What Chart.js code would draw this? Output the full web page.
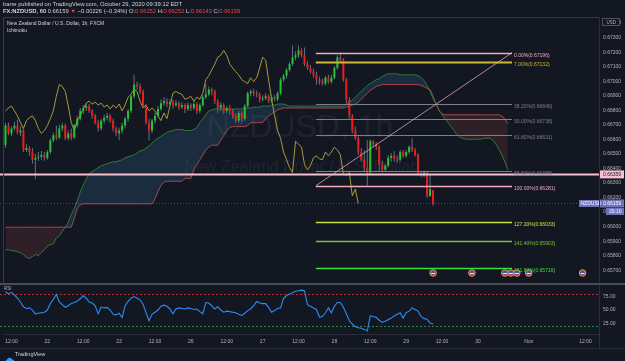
<!DOCTYPE html>
<html><head><meta charset="utf-8">
<script src="https://cdn.jsdelivr.net/npm/chart.js@4.4.0/dist/chart.umd.min.js"></script>
<style>
html,body{margin:0;padding:0;background:#131722;}
#wrap{position:relative;width:625px;height:361px;overflow:hidden;background:#131722;font-family:'Liberation Sans',Arial,sans-serif;}
.t{position:absolute;white-space:nowrap;color:#d1d4dc;line-height:1;}
.r{color:#ef4444;}
canvas{position:absolute;left:0;}
.ln{position:absolute;background:#2a2e39;}
</style></head>
<body><div id="wrap">
<canvas id="main" width="625" height="275" style="top:13px"></canvas>
<canvas id="rsi" width="625" height="70" style="top:280px"></canvas>
<div class="ln" style="left:3px;top:17px;width:596px;height:1px;background:#363a45"></div>
<div class="ln" style="left:3px;top:17px;width:1px;height:267px;background:#363a45"></div>
<div class="ln" style="left:599px;top:17px;width:1px;height:331px"></div>
<div class="ln" style="left:0;top:283px;width:625px;height:2px;background:#4a4e59"></div>
<div class="ln" style="left:0;top:348px;width:625px;height:1px"></div>
<div class="t" style="left:3px;top:1.5px;font-size:5.8px">barre published on TradingView.com, October 29, 2020 09:39:12 EDT</div>
<div class="t" style="left:3px;top:9px;font-size:5.8px"><b>FX:NZDUSD, 60</b> 0.66159 <span class="r">▼</span> −0.00226 (−0.34%) O:<span class="r">0.66252</span> H:<span class="r">0.66252</span> L:<span class="r">0.66143</span> C:<span class="r">0.66159</span></div>
<div class="t" style="left:7px;top:21px;font-size:5px">New Zealand Dollar / U.S. Dollar, 1h, FXCM</div>
<div class="t" style="left:7px;top:27.5px;font-size:5px">Ichimoku</div>
<div class="t" style="left:4px;top:351px;"><svg width="10" height="7" viewBox="0 0 10 7"><path d="M2 6.5h6a2 2 0 0 0 0.3-4a3 3 0 0 0-5.6 0.6a2 2 0 0 0-0.7 3.4z" fill="#2a9df4"/></svg></div>
<div class="t" style="left:15px;top:352px;font-size:5.5px">TradingView</div>
</div>
<script>
// ---------- categories (hourly bars, FX session) ----------
const sessions = [['Oct 21',10,23],['Oct 22',0,23],['Oct 23',0,16],['Oct 25',17,23],['Oct 26',0,23],['Oct 27',0,23],['Oct 28',0,23],['Oct 29',0,23],['Oct 30',0,16],['Nov 1',17,23],['Nov 2',0,16]];
const categories = [];
sessions.forEach(s => { for (let h = s[1]; h <= s[2]; h++) categories.push(s[0] + ' ' + String(h).padStart(2,'0') + ':00'); });

const tickIndex = [2,14,26,38,50,62,74,86,98,110,122,134,146,158,175,194];
const tickText  = ['12:00','22','12:00','23','12:00','26','12:00','27','12:00','28','12:00','29','12:00','30','Nov','12:00'];
const priceTicks = [0.657,0.658,0.659,0.660,0.661,0.662,0.663,0.664,0.665,0.666,0.667,0.668,0.669,0.670,0.671,0.672,0.673,0.674];
const rsiTicks = [25,50,75];
const rsiBands = [80,20];

// ---------- OHLC ----------
const open = [
0.66560,0.66695,0.66641,0.66675,0.66695,0.66648,0.66661,0.66527,0.66540,0.66513,
0.66460,0.66473,0.66480,0.66493,0.66473,0.66513,0.66594,0.66628,0.66614,0.66675,
0.66695,0.66608,0.66641,0.66614,0.66695,0.66742,0.66796,0.66816,0.66829,0.66796,
0.66762,0.66715,0.66675,0.66729,0.66749,0.66762,0.66729,0.66675,0.66641,0.66661,
0.66695,0.66742,0.66796,0.66896,0.66977,0.66964,0.66930,0.66829,0.66715,0.66661,
0.66729,0.66762,0.66809,0.66849,0.66863,0.66843,0.66856,0.66836,0.66849,0.66822,
0.66836,0.66809,0.66836,0.66816,0.66843,0.66796,0.66836,0.66890,0.66910,0.66943,
0.66930,0.66863,0.66816,0.66836,0.66796,0.66816,0.66796,0.66762,0.66729,0.66782,
0.66742,0.66829,0.66917,0.66930,0.66917,0.66910,0.66876,0.66883,0.66896,0.66863,
0.66890,0.66876,0.66917,0.67011,0.67038,0.67078,0.67118,0.67165,0.67179,0.67212,
0.67179,0.67118,0.67091,0.67065,0.67044,0.67011,0.66997,0.66984,0.67024,0.66997,
0.67024,0.67091,0.67165,0.67145,0.67011,0.66876,0.66762,0.66661,0.66608,0.66513,
0.66460,0.66406,0.66372,0.66587,0.66567,0.66547,0.66426,0.66392,0.66419,0.66473,
0.66487,0.66466,0.66460,0.66513,0.66487,0.66513,0.66547,0.66527,0.66493,0.66366,
0.66352,0.66372,0.66211,0.66252];
const high = [
0.66715,0.66715,0.66688,0.66722,0.66735,0.66688,0.66675,0.66567,0.66554,0.66540,
0.66500,0.66513,0.66520,0.66513,0.66527,0.66608,0.66648,0.66695,0.66702,0.66715,
0.66708,0.66661,0.66675,0.66708,0.66762,0.66816,0.66836,0.66849,0.66843,0.66809,
0.66775,0.66735,0.66742,0.66769,0.66782,0.66775,0.66742,0.66688,0.66681,0.66715,
0.66755,0.66809,0.66910,0.67044,0.66997,0.66984,0.66943,0.66843,0.66742,0.66742,
0.66782,0.66829,0.66876,0.66890,0.66883,0.66876,0.66870,0.66870,0.66863,0.66856,
0.66849,0.66856,0.66849,0.66863,0.66856,0.66849,0.66903,0.66984,0.66964,0.66957,
0.66943,0.66876,0.66856,0.66849,0.66829,0.66836,0.66809,0.66782,0.66796,0.66796,
0.66843,0.66930,0.66943,0.66950,0.66937,0.66923,0.66903,0.66917,0.66910,0.66910,
0.66903,0.66930,0.67024,0.67051,0.67091,0.67132,0.67246,0.67206,0.67246,0.67226,
0.67232,0.67138,0.67112,0.67085,0.67065,0.67031,0.67017,0.67038,0.67044,0.67044,
0.67105,0.67179,0.67196,0.67159,0.67024,0.66890,0.66775,0.66688,0.66621,0.66540,
0.66527,0.66594,0.66601,0.66594,0.66581,0.66560,0.66453,0.66433,0.66493,0.66507,
0.66520,0.66493,0.66527,0.66527,0.66527,0.66560,0.66608,0.66540,0.66507,0.66379,
0.66386,0.66379,0.66359,0.66252];
const low = [
0.66540,0.66628,0.66621,0.66661,0.66634,0.66621,0.66513,0.66513,0.66487,0.66433,
0.66325,0.66453,0.66460,0.66453,0.66460,0.66500,0.66581,0.66594,0.66601,0.66655,
0.66594,0.66594,0.66594,0.66601,0.66681,0.66729,0.66775,0.66796,0.66782,0.66742,
0.66702,0.66655,0.66661,0.66708,0.66729,0.66715,0.66655,0.66621,0.66594,0.66641,
0.66675,0.66722,0.66782,0.66883,0.66943,0.66910,0.66816,0.66702,0.66594,0.66641,
0.66708,0.66749,0.66796,0.66829,0.66822,0.66829,0.66809,0.66822,0.66802,0.66809,
0.66782,0.66796,0.66796,0.66802,0.66775,0.66782,0.66822,0.66876,0.66896,0.66903,
0.66843,0.66782,0.66796,0.66775,0.66782,0.66769,0.66742,0.66715,0.66715,0.66722,
0.66729,0.66816,0.66896,0.66896,0.66890,0.66856,0.66863,0.66870,0.66849,0.66849,
0.66863,0.66863,0.66903,0.66997,0.67017,0.67065,0.67105,0.67145,0.67159,0.67165,
0.67105,0.67078,0.67051,0.67024,0.66977,0.66977,0.66970,0.66970,0.66984,0.66984,
0.67011,0.67078,0.67132,0.66997,0.66849,0.66742,0.66641,0.66594,0.66493,0.66446,
0.66379,0.66281,0.66359,0.66547,0.66527,0.66379,0.66372,0.66379,0.66406,0.66446,
0.66446,0.66440,0.66446,0.66473,0.66473,0.66500,0.66513,0.66480,0.66352,0.66339,
0.66339,0.66198,0.66204,0.66143];
const close = [
0.66695,0.66641,0.66675,0.66695,0.66648,0.66661,0.66527,0.66540,0.66513,0.66460,
0.66473,0.66480,0.66493,0.66473,0.66513,0.66594,0.66628,0.66614,0.66675,0.66695,
0.66608,0.66641,0.66614,0.66695,0.66742,0.66796,0.66816,0.66829,0.66796,0.66762,
0.66715,0.66675,0.66729,0.66749,0.66762,0.66729,0.66675,0.66641,0.66661,0.66695,
0.66742,0.66796,0.66896,0.66977,0.66964,0.66930,0.66829,0.66715,0.66661,0.66729,
0.66762,0.66809,0.66849,0.66863,0.66843,0.66856,0.66836,0.66849,0.66822,0.66836,
0.66809,0.66836,0.66816,0.66843,0.66796,0.66836,0.66890,0.66910,0.66943,0.66930,
0.66863,0.66816,0.66836,0.66796,0.66816,0.66796,0.66762,0.66729,0.66782,0.66742,
0.66829,0.66917,0.66930,0.66917,0.66910,0.66876,0.66883,0.66896,0.66863,0.66890,
0.66876,0.66917,0.67011,0.67038,0.67078,0.67118,0.67165,0.67179,0.67212,0.67179,
0.67118,0.67091,0.67065,0.67044,0.67011,0.66997,0.66984,0.67024,0.66997,0.67024,
0.67091,0.67165,0.67145,0.67011,0.66876,0.66762,0.66661,0.66608,0.66513,0.66460,
0.66406,0.66372,0.66587,0.66567,0.66547,0.66426,0.66392,0.66419,0.66473,0.66487,
0.66466,0.66460,0.66513,0.66487,0.66513,0.66547,0.66527,0.66493,0.66366,0.66352,
0.66372,0.66211,0.66258,0.66159];

// ---------- Ichimoku leading spans (already displaced forward) ----------
const spanA = [
0.65841,0.65841,0.65834,0.65834,0.65828,0.65821,0.65808,0.65788,0.65781,0.65794,
0.65808,0.65801,0.65821,0.65841,0.65868,0.65875,0.65882,0.65922,0.65935,0.65969,
0.65996,0.66029,0.66083,0.66124,0.66177,0.66238,0.66285,0.66325,0.66366,0.66379,
0.66392,0.66406,0.66419,0.66426,0.66433,0.66440,0.66446,0.66446,0.66453,0.66460,
0.66473,0.66480,0.66487,0.66493,0.66507,0.66520,0.66527,0.66540,0.66554,0.66574,
0.66594,0.66608,0.66621,0.66634,0.66648,0.66655,0.66661,0.66668,0.66668,0.66668,
0.66661,0.66661,0.66661,0.66668,0.66681,0.66715,0.66742,0.66769,0.66796,0.66802,
0.66809,0.66809,0.66809,0.66809,0.66809,0.66809,0.66809,0.66809,0.66809,0.66809,
0.66809,0.66816,0.66816,0.66822,0.66822,0.66822,0.66829,0.66829,0.66829,0.66836,
0.66836,0.66843,0.66843,0.66843,0.66836,0.66829,0.66829,0.66829,0.66829,0.66829,
0.66829,0.66829,0.66829,0.66829,0.66829,0.66829,0.66829,0.66829,0.66829,0.66829,
0.66829,0.66829,0.66829,0.66829,0.66843,0.66856,0.66870,0.66890,0.66910,0.66930,
0.66950,0.66970,0.66984,0.66997,0.67011,0.67017,0.67031,0.67044,0.67051,0.67051,
0.67051,0.67051,0.67044,0.67044,0.67044,0.67044,0.67044,0.67044,0.67038,0.67024,
0.67004,0.66970,0.66930,0.66883,0.66843,0.66802,0.66769,0.66742,0.66715,0.66688,
0.66661,0.66634,0.66614,0.66608,0.66601,0.66601,0.66601,0.66601,0.66601,0.66601,
0.66608,0.66608,0.66608,0.66594,0.66567,0.66534,0.66493,0.66446,0.66392];
const spanB = [
0.65996,0.65996,0.65996,0.65996,0.65996,0.65996,0.65996,0.65996,0.65996,0.65996,
0.65996,0.65996,0.65996,0.65996,0.65996,0.65996,0.65996,0.65996,0.65996,0.65996,
0.65996,0.65996,0.65996,0.66056,0.66124,0.66150,0.66157,0.66157,0.66157,0.66157,
0.66157,0.66157,0.66157,0.66157,0.66157,0.66157,0.66157,0.66157,0.66157,0.66157,
0.66157,0.66157,0.66157,0.66157,0.66157,0.66157,0.66157,0.66157,0.66157,0.66157,
0.66191,0.66238,0.66285,0.66305,0.66312,0.66312,0.66312,0.66312,0.66312,0.66312,
0.66332,0.66332,0.66332,0.66392,0.66426,0.66460,0.66493,0.66527,0.66547,0.66560,
0.66560,0.66560,0.66594,0.66628,0.66661,0.66681,0.66688,0.66688,0.66688,0.66688,
0.66688,0.66695,0.66715,0.66715,0.66715,0.66715,0.66715,0.66742,0.66762,0.66775,
0.66789,0.66802,0.66809,0.66816,0.66816,0.66816,0.66816,0.66816,0.66816,0.66816,
0.66816,0.66816,0.66816,0.66816,0.66816,0.66816,0.66816,0.66816,0.66816,0.66816,
0.66816,0.66816,0.66816,0.66816,0.66822,0.66829,0.66836,0.66843,0.66856,0.66876,
0.66896,0.66917,0.66937,0.66950,0.66964,0.66970,0.66977,0.66977,0.66977,0.66977,
0.66977,0.66977,0.66977,0.66977,0.66977,0.66977,0.66977,0.66977,0.66977,0.66970,
0.66964,0.66950,0.66943,0.66896,0.66843,0.66796,0.66775,0.66769,0.66769,0.66769,
0.66769,0.66769,0.66769,0.66769,0.66769,0.66769,0.66769,0.66769,0.66769,0.66769,
0.66769,0.66769,0.66769,0.66769,0.66769,0.66769,0.66762,0.66742,0.66708];

// ---------- RSI ----------
const rsi = [
84,80,83,78,72,65,56,53,54,50, 43,44,45,46,50,62,70,79,65,60,
55,58,62,64,67,71,77,72,65,63, 58,43,56,54,55,50,42,41,44,36,
58,66,72,75,72,69,61,45,30,42, 46,50,57,59,57,52,43,52,54,53,
52,54,53,51,52,47,43,64,63,58, 52,56,50,46,48,47,46,45,42,40,
44,49,52,58,66,63,62,62,55,46, 49,53,54,72,77,80,82,85,86,87,
86,60,57,54,51,37,38,45,54,45, 57,64,64,55,43,30,24,19,17,16,
14,11,39,38,36,31,27,29,32,35, 39,42,45,35,45,48,54,51,48,38,
34,33,26,24];

// ---------- drawings ----------
const fibText   = ['0.00%','7.00%','38.20%','50.00%','61.80%','88.60%','100.00%','127.20%','141.40%','161.80%'];
const fibPrices = [0.67196,0.67132,0.66846,0.66738,0.66631,0.66385,0.66281,0.66033,0.65903,0.65716];
const fibAnchorIdx = [103.8, 169.4];
const hLinePrice = 0.66359;
const eventIdx = [143,156,167,169,171,175,193];
const watermark = ['NZDUSD, 1h','New Zealand Dollar / U.S. Dollar'];
const countdown = '20:10';

// ---------- styles ----------
const FONT = "'Liberation Sans', Arial, sans-serif";
Chart.defaults.font.family = FONT;
Chart.defaults.color = '#b2b5be';
const UP = '#27c52d', DOWN = '#f21b1b', WICK = '#5b7481';
const TAG = '#6d72bb';
const fibColors = ['#f3a9c0','#cdb63a','#7d808c','#7d808c','#7d808c','#7d808c','#f3a9c0','#c9e043','#78c436','#35e03a'];
const fibWidths = [1.5,2,1,1,1,1,1.5,1.5,1.5,1.5];

function seg(ctx,x0,y0,x1,y1){ctx.beginPath();ctx.moveTo(x0,y0);ctx.lineTo(x1,y1);ctx.stroke();}

const mainOverlay = {
  id:'mainOverlay',
  beforeDatasetsDraw(chart){
    const {ctx} = chart;
    ctx.save();
    ctx.fillStyle = 'rgba(255,255,255,0.055)';
    ctx.textAlign = 'center'; ctx.textBaseline = 'middle';
    ctx.font = '32px ' + FONT;
    ctx.fillText(watermark[0], 300, 128 - 13);
    ctx.font = '16px ' + FONT;
    ctx.fillText(watermark[1], 300, 168 - 13);
    ctx.restore();
  },
  afterDatasetsDraw(chart){
    const {ctx, chartArea:a, scales:{x,y}} = chart;
    ctx.save();
    const lp = close[close.length-1];
    let py = Math.round(y.getPixelForValue(lp)) + 0.5;
    ctx.setLineDash([1,2]); ctx.lineWidth = 1; ctx.strokeStyle = 'rgba(130,133,150,0.5)';
    seg(ctx, 0, py, a.right, py);
    ctx.setLineDash([]);
    py = y.getPixelForValue(hLinePrice);
    ctx.strokeStyle = '#f5c1d0'; ctx.lineWidth = 2;
    seg(ctx, 0, py, a.right, py);
    const fx0 = x.getPixelForValue(fibAnchorIdx[0]), fx1 = x.getPixelForValue(fibAnchorIdx[1]);
    ctx.font = '5px ' + FONT; ctx.textAlign = 'left'; ctx.textBaseline = 'middle';
    fibPrices.forEach((p,k) => {
      const fy = Math.round(y.getPixelForValue(p)) + 0.5;
      ctx.strokeStyle = fibColors[k]; ctx.lineWidth = fibWidths[k];
      seg(ctx, fx0, fy, fx1, fy);
      ctx.fillStyle = fibColors[k];
      ctx.fillText(fibText[k] + '(' + p.toFixed(5) + ')', fx1 + 2, fy + 2.5);
    });
    ctx.strokeStyle = 'rgba(243,169,192,0.75)'; ctx.lineWidth = 1;
    seg(ctx, fx0, y.getPixelForValue(fibPrices[6]), fx1, y.getPixelForValue(fibPrices[0]));
    ctx.restore();
  },
  afterDraw(chart){
    const {ctx, chartArea:a, scales:{x,y}} = chart;
    ctx.save();
    ctx.font = '5px ' + FONT; ctx.textBaseline = 'middle'; ctx.textAlign = 'left';
    let py = y.getPixelForValue(hLinePrice);
    ctx.fillStyle = '#f5c1d0'; ctx.fillRect(a.right + 1, py - 4, 24, 8);
    ctx.fillStyle = '#131722'; ctx.fillText(hLinePrice.toFixed(5), a.right + 4, py + 0.5);
    const lp = close[close.length-1];
    py = y.getPixelForValue(lp);
    ctx.fillStyle = TAG;
    ctx.fillRect(a.right - 20, py - 3.5, 20, 7);
    ctx.fillRect(a.right + 1, py - 4, 24, 8);
    ctx.fillRect(a.right + 7, py + 4.5, 18, 7);
    ctx.fillStyle = '#ffffff';
    ctx.fillText('NZDUSD', a.right - 18.5, py + 0.5);
    ctx.fillText(lp.toFixed(5), a.right + 4, py + 0.5);
    ctx.fillText(countdown, a.right + 10, py + 8.5);
    // currency box
    ctx.strokeStyle = '#50535e'; ctx.lineWidth = 1;
    ctx.fillStyle = '#131722';
    ctx.fillRect(a.right + 3.5, 5.5, 17, 7); ctx.strokeRect(a.right + 3.5, 5.5, 17, 7);
    ctx.fillStyle = '#b2b5be'; ctx.font = '4.5px ' + FONT; ctx.fillText('USD', a.right + 7.5, 9.3);
    // event icons
    eventIdx.forEach(i => {
      const ex = x.getPixelForValue(i), ey = a.bottom - 8;
      ctx.beginPath(); ctx.arc(ex, ey, 3.3, 0, Math.PI*2);
      ctx.fillStyle = '#3b5fa6'; ctx.fill();
      ctx.strokeStyle = '#e39a35'; ctx.lineWidth = 1; ctx.stroke();
      ctx.fillStyle = '#e8e8f0'; ctx.fillRect(ex - 2, ey, 4, 1);
      ctx.fillStyle = '#d33'; ctx.fillRect(ex - 2, ey + 1, 4, 1);
    });
    ctx.restore();
  }
};

new Chart(document.getElementById('main'), {
  type:'bar',
  data:{
    labels: categories,
    datasets:[
      {type:'bar', label:'Body', data: open.map((o,i)=>[o, close[i]]),
        backgroundColor: close.map((c,i)=> c >= open[i] ? UP : DOWN),
        barThickness:2, grouped:false, borderWidth:0, inflateAmount:0, minBarLength:1, order:0},
      {type:'bar', label:'Wick', data: low.map((l,i)=>[l, high[i]]),
        backgroundColor: WICK, barThickness:1, grouped:false, borderWidth:0, inflateAmount:0, order:1},
      {type:'line', label:'Lagging Span', data: close.slice(25), borderColor:'#a99a3b', borderWidth:1, pointRadius:0, tension:0, order:2},
      {type:'line', label:'Lead 1', data: spanA, borderColor:'#2f7a3d', borderWidth:1, pointRadius:0, tension:0, order:3,
        fill:{target:4, above:'rgba(54,128,169,0.2)', below:'rgba(159,63,54,0.2)'}},
      {type:'line', label:'Lead 2', data: spanB, borderColor:'#b0464f', borderWidth:1, pointRadius:0, tension:0, order:4}
    ]
  },
  options:{
    responsive:false, animation:false, devicePixelRatio:1,
    layout:{padding:{left:4, right:0, top:4, bottom:4}},
    plugins:{legend:{display:false}, tooltip:{enabled:false}},
    scales:{
      x:{type:'category', offset:true, display:false},
      y:{position:'right', min:0.65626, max:0.67421,
         afterBuildTicks: s => { s.ticks = priceTicks.map(v => ({value:v})); },
         afterFit: s => { s.width = 26; },
         grid:{display:false, drawTicks:false}, border:{display:false},
         ticks:{padding:4, color:'#b2b5be', font:{size:5}, callback: v => Number(v).toFixed(5)}}
    }
  },
  plugins:[mainOverlay]
});

const rsiOverlay = {
  id:'rsiOverlay',
  beforeDatasetsDraw(chart){
    const {ctx, chartArea:a, scales:{y}} = chart;
    ctx.save();
    ctx.setLineDash([2,2]); ctx.lineWidth = 1;
    const cols = ['#c0282b','#2a8c3c'];
    rsiBands.forEach((b,k) => {
      const py = Math.round(y.getPixelForValue(b)) + 0.5;
      ctx.strokeStyle = cols[k];
      seg(ctx, 0, py, a.right, py);
    });
    ctx.restore();
  },
  afterDraw(chart){
    const {ctx} = chart;
    ctx.save();
    ctx.font = '4.5px ' + FONT; ctx.fillStyle = '#b2b5be'; ctx.textBaseline = 'middle';
    ctx.fillText('RSI', 4, 9);
    ctx.restore();
  }
};

new Chart(document.getElementById('rsi'), {
  type:'line',
  data:{ labels: categories,
    datasets:[{label:'RSI', data: rsi, borderColor:'#2b8cf0', borderWidth:1.1, pointRadius:0, tension:0}] },
  options:{
    responsive:false, animation:false, devicePixelRatio:1,
    layout:{padding:{left:4, right:0, top:5, bottom:0}},
    plugins:{legend:{display:false}, tooltip:{enabled:false}},
    scales:{
      x:{type:'category', offset:true,
         grid:{display:false, drawTicks:false}, border:{display:true, color:'#2a2e39'},
         afterFit: s => { s.height = 16; },
         ticks:{autoSkip:false, maxRotation:0, minRotation:0, padding:5, color:'#b2b5be', font:{size:5},
           callback: (v, i) => { const k = tickIndex.indexOf(i); return k >= 0 ? tickText[k] : ''; }}},
      y:{position:'right', min:5.4, max:92.9,
         afterBuildTicks: s => { s.ticks = rsiTicks.map(v => ({value:v})); },
         afterFit: s => { s.width = 26; },
         grid:{display:false, drawTicks:false}, border:{display:false},
         ticks:{padding:4, color:'#b2b5be', font:{size:5}, callback: v => Number(v).toFixed(2)}}
    }
  },
  plugins:[rsiOverlay]
});
</script>
</body></html>
